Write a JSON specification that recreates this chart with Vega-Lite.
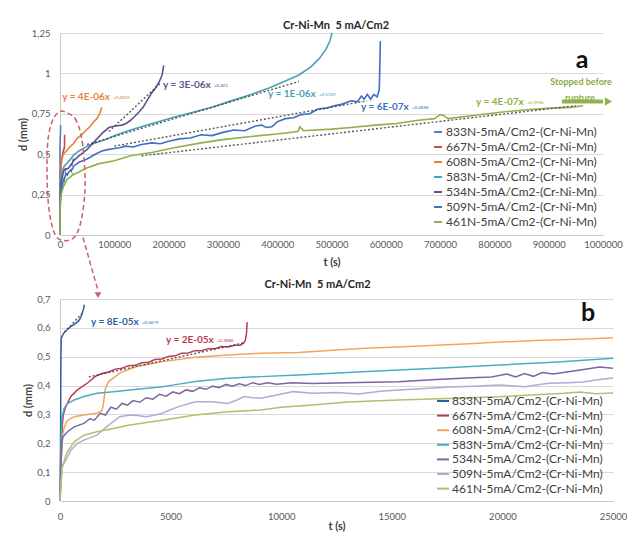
{
  "$schema": "https://vega.github.io/schema/vega-lite/v6.json",
  "background": "white",
  "padding": {"left": 17, "top": 19, "right": 5, "bottom": 5},
  "config": {
    "font": "Lato",
    "view": {"stroke": null},
    "axis": {
      "labelFont": "Lato", "labelFontSize": 9.5, "labelColor": "#595959",
      "titleFont": "Lato", "titleFontSize": 11, "titleFontWeight": "bold", "titleColor": "#404040",
      "ticks": false, "domainColor": "#c8c8c8", "gridColor": "#d9d9d9",
      "labelFlush": false, "labelOverlap": false
    },
    "title": {"font": "Lato", "fontSize": 11, "fontWeight": "bold", "color": "#262626", "anchor": "middle", "frame": "group"}
  },
  "datasets": {
    "curves": [
      {"k":"833","t":0,"d":0},{"k":"833","t":25,"d":0.2},{"k":"833","t":40,"d":0.5},{"k":"833","t":60,"d":0.565},{"k":"833","t":120,"d":0.575},{"k":"833","t":200,"d":0.585},{"k":"833","t":350,"d":0.595},{"k":"833","t":500,"d":0.605},{"k":"833","t":700,"d":0.615},{"k":"833","t":850,"d":0.625},{"k":"833","t":930,"d":0.635},{"k":"833","t":1000,"d":0.65},{"k":"833","t":1060,"d":0.665},{"k":"833","t":1100,"d":0.68},

      {"k":"667","t":0,"d":0},{"k":"667","t":60,"d":0.15},{"k":"667","t":100,"d":0.26},{"k":"667","t":150,"d":0.3},{"k":"667","t":266,"d":0.327},{"k":"667","t":488,"d":0.362},{"k":"667","t":784,"d":0.385},{"k":"667","t":1228,"d":0.408},{"k":"667","t":1600,"d":0.432},{"k":"667","t":1900,"d":0.442},{"k":"667","t":2200,"d":0.447},{"k":"667","t":2500,"d":0.457},{"k":"667","t":2800,"d":0.46},{"k":"667","t":3100,"d":0.469},{"k":"667","t":3400,"d":0.47},{"k":"667","t":3700,"d":0.479},{"k":"667","t":4000,"d":0.481},{"k":"667","t":4300,"d":0.49},{"k":"667","t":4600,"d":0.492},{"k":"667","t":4900,"d":0.501},{"k":"667","t":5200,"d":0.503},{"k":"667","t":5500,"d":0.512},{"k":"667","t":5800,"d":0.513},{"k":"667","t":6100,"d":0.521},{"k":"667","t":6400,"d":0.521},{"k":"667","t":6700,"d":0.528},{"k":"667","t":7000,"d":0.528},{"k":"667","t":7300,"d":0.535},{"k":"667","t":7600,"d":0.534},{"k":"667","t":7900,"d":0.54},{"k":"667","t":8150,"d":0.54},{"k":"667","t":8300,"d":0.547},{"k":"667","t":8380,"d":0.557},{"k":"667","t":8430,"d":0.58},{"k":"667","t":8460,"d":0.62},

      {"k":"608","t":0,"d":0},{"k":"608","t":60,"d":0.15},{"k":"608","t":120,"d":0.23},{"k":"608","t":200,"d":0.257},{"k":"608","t":340,"d":0.28},{"k":"608","t":640,"d":0.292},{"k":"608","t":1080,"d":0.298},{"k":"608","t":1670,"d":0.304},{"k":"608","t":1880,"d":0.312},{"k":"608","t":1950,"d":0.33},{"k":"608","t":2000,"d":0.36},{"k":"608","t":2050,"d":0.39},{"k":"608","t":2200,"d":0.414},{"k":"608","t":2700,"d":0.443},{"k":"608","t":3450,"d":0.466},{"k":"608","t":4630,"d":0.483},{"k":"608","t":6110,"d":0.498},{"k":"608","t":7590,"d":0.506},{"k":"608","t":9070,"d":0.512},{"k":"608","t":10770,"d":0.515},{"k":"608","t":12500,"d":0.523},{"k":"608","t":14000,"d":0.53},{"k":"608","t":15300,"d":0.534},{"k":"608","t":17000,"d":0.54},{"k":"608","t":18500,"d":0.545},{"k":"608","t":19900,"d":0.551},{"k":"608","t":21500,"d":0.556},{"k":"608","t":23000,"d":0.56},{"k":"608","t":24000,"d":0.562},{"k":"608","t":25000,"d":0.566},{"k":"608","t":32000,"d":0.6},{"k":"608","t":40000,"d":0.62},{"k":"608","t":47000,"d":0.645},{"k":"608","t":55000,"d":0.67},{"k":"608","t":62000,"d":0.7},{"k":"608","t":68000,"d":0.72},{"k":"608","t":73000,"d":0.75},{"k":"608","t":77000,"d":0.79},

      {"k":"583","t":0,"d":0},{"k":"583","t":50,"d":0.2},{"k":"583","t":80,"d":0.29},{"k":"583","t":120,"d":0.3},{"k":"583","t":190,"d":0.321},{"k":"583","t":340,"d":0.338},{"k":"583","t":640,"d":0.35},{"k":"583","t":1080,"d":0.362},{"k":"583","t":1670,"d":0.373},{"k":"583","t":2410,"d":0.379},{"k":"583","t":3150,"d":0.385},{"k":"583","t":4630,"d":0.396},{"k":"583","t":5370,"d":0.405},{"k":"583","t":6110,"d":0.414},{"k":"583","t":7590,"d":0.425},{"k":"583","t":9070,"d":0.431},{"k":"583","t":10770,"d":0.437},{"k":"583","t":13000,"d":0.445},{"k":"583","t":15300,"d":0.454},{"k":"583","t":17500,"d":0.462},{"k":"583","t":19860,"d":0.471},{"k":"583","t":22500,"d":0.482},{"k":"583","t":25000,"d":0.495},{"k":"583","t":35000,"d":0.52},{"k":"583","t":50000,"d":0.55},{"k":"583","t":65000,"d":0.57},{"k":"583","t":83000,"d":0.59},{"k":"583","t":105000,"d":0.62},{"k":"583","t":130000,"d":0.65},{"k":"583","t":170000,"d":0.69},{"k":"583","t":211000,"d":0.73},{"k":"583","t":245000,"d":0.76},{"k":"583","t":280000,"d":0.79},{"k":"583","t":315000,"d":0.83},{"k":"583","t":352000,"d":0.87},{"k":"583","t":385000,"d":0.91},{"k":"583","t":413000,"d":0.95},{"k":"583","t":440000,"d":0.99},{"k":"583","t":462000,"d":1.04},{"k":"583","t":477000,"d":1.09},{"k":"583","t":490000,"d":1.15},{"k":"583","t":497000,"d":1.2},{"k":"583","t":501000,"d":1.25},

      {"k":"534","t":0,"d":0},{"k":"534","t":50,"d":0.15},{"k":"534","t":80,"d":0.2},{"k":"534","t":130,"d":0.222},{"k":"534","t":340,"d":0.24},{"k":"534","t":640,"d":0.257},{"k":"534","t":1080,"d":0.269},{"k":"534","t":1350,"d":0.285},{"k":"534","t":1550,"d":0.28},{"k":"534","t":1820,"d":0.304},{"k":"534","t":2050,"d":0.298},{"k":"534","t":2300,"d":0.325},{"k":"534","t":2550,"d":0.318},{"k":"534","t":2800,"d":0.338},{"k":"534","t":3050,"d":0.332},{"k":"534","t":3300,"d":0.348},{"k":"534","t":3600,"d":0.342},{"k":"534","t":3900,"d":0.358},{"k":"534","t":4200,"d":0.353},{"k":"534","t":4500,"d":0.37},{"k":"534","t":4800,"d":0.363},{"k":"534","t":5100,"d":0.378},{"k":"534","t":5400,"d":0.372},{"k":"534","t":5700,"d":0.385},{"k":"534","t":6000,"d":0.38},{"k":"534","t":6300,"d":0.392},{"k":"534","t":6600,"d":0.387},{"k":"534","t":6900,"d":0.398},{"k":"534","t":7200,"d":0.393},{"k":"534","t":7500,"d":0.404},{"k":"534","t":7800,"d":0.398},{"k":"534","t":8100,"d":0.406},{"k":"534","t":8400,"d":0.4},{"k":"534","t":8700,"d":0.41},{"k":"534","t":9000,"d":0.404},{"k":"534","t":9400,"d":0.41},{"k":"534","t":9800,"d":0.405},{"k":"534","t":10500,"d":0.41},{"k":"534","t":11400,"d":0.407},{"k":"534","t":13000,"d":0.41},{"k":"534","t":15300,"d":0.413},{"k":"534","t":16800,"d":0.42},{"k":"534","t":18360,"d":0.426},{"k":"534","t":19500,"d":0.43},{"k":"534","t":20200,"d":0.44},{"k":"534","t":20600,"d":0.43},{"k":"534","t":21000,"d":0.442},{"k":"534","t":21400,"d":0.432},{"k":"534","t":21800,"d":0.445},{"k":"534","t":22300,"d":0.44},{"k":"534","t":22900,"d":0.447},{"k":"534","t":23600,"d":0.455},{"k":"534","t":24400,"d":0.464},{"k":"534","t":25000,"d":0.46},{"k":"534","t":35000,"d":0.49},{"k":"534","t":50000,"d":0.53},{"k":"534","t":64000,"d":0.58},{"k":"534","t":78000,"d":0.63},{"k":"534","t":90000,"d":0.665},{"k":"534","t":102000,"d":0.675},{"k":"534","t":114000,"d":0.68},{"k":"534","t":122000,"d":0.69},{"k":"534","t":130000,"d":0.71},{"k":"534","t":138000,"d":0.735},{"k":"534","t":145000,"d":0.76},{"k":"534","t":153000,"d":0.79},{"k":"534","t":160000,"d":0.83},{"k":"534","t":169000,"d":0.88},{"k":"534","t":176000,"d":0.91},{"k":"534","t":183000,"d":0.95},{"k":"534","t":188000,"d":0.99},{"k":"534","t":191000,"d":1.05},

      {"k":"509","t":0,"d":0},{"k":"509","t":60,"d":0.07},{"k":"509","t":100,"d":0.118},{"k":"509","t":340,"d":0.153},{"k":"509","t":490,"d":0.176},{"k":"509","t":790,"d":0.2},{"k":"509","t":1080,"d":0.211},{"k":"509","t":1670,"d":0.228},{"k":"509","t":2100,"d":0.257},{"k":"509","t":2700,"d":0.292},{"k":"509","t":3150,"d":0.298},{"k":"509","t":3500,"d":0.296},{"k":"509","t":3890,"d":0.292},{"k":"509","t":4300,"d":0.298},{"k":"509","t":4630,"d":0.304},{"k":"509","t":5000,"d":0.316},{"k":"509","t":5370,"d":0.327},{"k":"509","t":6110,"d":0.344},{"k":"509","t":6850,"d":0.344},{"k":"509","t":7590,"d":0.338},{"k":"509","t":8000,"d":0.35},{"k":"509","t":8330,"d":0.362},{"k":"509","t":8700,"d":0.358},{"k":"509","t":9070,"d":0.356},{"k":"509","t":9800,"d":0.367},{"k":"509","t":10550,"d":0.379},{"k":"509","t":11430,"d":0.373},{"k":"509","t":12500,"d":0.376},{"k":"509","t":13500,"d":0.371},{"k":"509","t":14500,"d":0.38},{"k":"509","t":15300,"d":0.385},{"k":"509","t":16500,"d":0.39},{"k":"509","t":17590,"d":0.395},{"k":"509","t":18700,"d":0.398},{"k":"509","t":19860,"d":0.402},{"k":"509","t":21000,"d":0.396},{"k":"509","t":22100,"d":0.408},{"k":"509","t":23000,"d":0.41},{"k":"509","t":23640,"d":0.412},{"k":"509","t":24300,"d":0.42},{"k":"509","t":25000,"d":0.426},{"k":"509","t":35000,"d":0.45},{"k":"509","t":50000,"d":0.47},{"k":"509","t":65000,"d":0.5},{"k":"509","t":77000,"d":0.52},{"k":"509","t":90000,"d":0.53},{"k":"509","t":100000,"d":0.535},{"k":"509","t":110000,"d":0.54},{"k":"509","t":120000,"d":0.55},{"k":"509","t":135000,"d":0.545},{"k":"509","t":150000,"d":0.56},{"k":"509","t":169000,"d":0.57},{"k":"509","t":185000,"d":0.565},{"k":"509","t":200000,"d":0.58},{"k":"509","t":220000,"d":0.595},{"k":"509","t":240000,"d":0.6},{"k":"509","t":260000,"d":0.62},{"k":"509","t":280000,"d":0.615},{"k":"509","t":300000,"d":0.635},{"k":"509","t":320000,"d":0.65},{"k":"509","t":340000,"d":0.645},{"k":"509","t":360000,"d":0.675},{"k":"509","t":371000,"d":0.68},{"k":"509","t":380000,"d":0.665},{"k":"509","t":390000,"d":0.67},{"k":"509","t":400000,"d":0.7},{"k":"509","t":415000,"d":0.72},{"k":"509","t":430000,"d":0.725},{"k":"509","t":444000,"d":0.745},{"k":"509","t":460000,"d":0.75},{"k":"509","t":475000,"d":0.78},{"k":"509","t":490000,"d":0.785},{"k":"509","t":505000,"d":0.8},{"k":"509","t":520000,"d":0.81},{"k":"509","t":536000,"d":0.83},{"k":"509","t":548000,"d":0.825},{"k":"509","t":555000,"d":0.86},{"k":"509","t":560000,"d":0.84},{"k":"509","t":566000,"d":0.87},{"k":"509","t":572000,"d":0.84},{"k":"509","t":578000,"d":0.87},{"k":"509","t":584000,"d":0.855},{"k":"509","t":588000,"d":0.9},{"k":"509","t":590000,"d":1.2},

      {"k":"461","t":0,"d":0},{"k":"461","t":40,"d":0.06},{"k":"461","t":100,"d":0.118},{"k":"461","t":300,"d":0.165},{"k":"461","t":640,"d":0.205},{"k":"461","t":1080,"d":0.228},{"k":"461","t":1670,"d":0.24},{"k":"461","t":2410,"d":0.251},{"k":"461","t":3150,"d":0.263},{"k":"461","t":4630,"d":0.28},{"k":"461","t":6110,"d":0.298},{"k":"461","t":7590,"d":0.309},{"k":"461","t":9070,"d":0.315},{"k":"461","t":10000,"d":0.325},{"k":"461","t":11430,"d":0.333},{"k":"461","t":13000,"d":0.343},{"k":"461","t":15300,"d":0.35},{"k":"461","t":17500,"d":0.355},{"k":"461","t":19860,"d":0.361},{"k":"461","t":21500,"d":0.368},{"k":"461","t":22800,"d":0.373},{"k":"461","t":23500,"d":0.378},{"k":"461","t":24200,"d":0.372},{"k":"461","t":25000,"d":0.374},{"k":"461","t":35000,"d":0.39},{"k":"461","t":46000,"d":0.41},{"k":"461","t":70000,"d":0.44},{"k":"461","t":100000,"d":0.46},{"k":"461","t":130000,"d":0.49},{"k":"461","t":169000,"d":0.51},{"k":"461","t":210000,"d":0.54},{"k":"461","t":260000,"d":0.57},{"k":"461","t":300000,"d":0.59},{"k":"461","t":352000,"d":0.61},{"k":"461","t":400000,"d":0.625},{"k":"461","t":438000,"d":0.64},{"k":"461","t":442000,"d":0.67},{"k":"461","t":448000,"d":0.645},{"k":"461","t":500000,"d":0.655},{"k":"461","t":536000,"d":0.665},{"k":"461","t":580000,"d":0.68},{"k":"461","t":620000,"d":0.69},{"k":"461","t":660000,"d":0.71},{"k":"461","t":690000,"d":0.72},{"k":"461","t":700000,"d":0.745},{"k":"461","t":706000,"d":0.74},{"k":"461","t":715000,"d":0.72},{"k":"461","t":750000,"d":0.735},{"k":"461","t":811000,"d":0.76},{"k":"461","t":860000,"d":0.775},{"k":"461","t":903000,"d":0.785},{"k":"461","t":940000,"d":0.79},{"k":"461","t":963000,"d":0.8}
    ],
    "trendA": [
      {"k":"534","t":90000,"d":0.64},{"k":"534","t":185000,"d":0.94},
      {"k":"583","t":50000,"d":0.56},{"k":"583","t":440000,"d":0.95},
      {"k":"509","t":100000,"d":0.55},{"k":"509","t":565000,"d":0.83},
      {"k":"461","t":150000,"d":0.49},{"k":"461","t":950000,"d":0.8}
    ],
    "trendB": [
      {"k":"833","t":200,"d":0.585},{"k":"833","t":1000,"d":0.65},
      {"k":"667","t":1300,"d":0.43},{"k":"667","t":8300,"d":0.548}
    ],
    "notesA": [
      {"k":"608","t":4000,"d":0.851,"eq":"y = 4E-06x","c":"+0,4005"},
      {"k":"534","t":189700,"d":0.931,"eq":"y = 3E-06x","c":"+0,401"},
      {"k":"583","t":383000,"d":0.87,"eq":"y = 1E-06x","c":"+0,5109"},
      {"k":"509","t":554300,"d":0.795,"eq":"y = 6E-07x","c":"+0,4888"},
      {"k":"461","t":766100,"d":0.82,"eq":"y = 4E-07x","c":"+0,3966"}
    ],
    "notesB": [
      {"k":"833","t":1401,"d":0.62,"eq":"y = 8E-05x","c":"+0,5679"},
      {"k":"667","t":4792,"d":0.558,"eq":"y = 2E-05x","c":"+0,3886"}
    ],
    "loop": [
      {"i":0,"t":11050,"d":0.758},{"i":1,"t":27624,"d":0.721},{"i":2,"t":38674,"d":0.622},{"i":3,"t":44198,"d":0.467},{"i":4,"t":46040,"d":0.282},{"i":5,"t":38674,"d":0.084},{"i":6,"t":25782,"d":-0.015},{"i":7,"t":7366,"d":-0.034},{"i":8,"t":-9208,"d":0.003},{"i":9,"t":-20258,"d":0.158},{"i":10,"t":-23941,"d":0.374},{"i":11,"t":-22099,"d":0.591},{"i":12,"t":-12891,"d":0.715},{"i":13,"t":0,"d":0.764}
    ]
  },
  "spacing": 64,
  "bounds": "flush",
  "resolve": {"scale": {"color": "independent"}, "legend": {"color": "independent"}},
  "vconcat": [
    {
      "width": 543,
      "height": 202,
      "title": {"text": "Cr-Ni-Mn\u00a0 5 mA/Cm2", "dx": 4.5, "offset": -2.5},
      "layer": [
        {
          "data": {"name": "curves"},
          "mark": {"type": "line", "strokeWidth": 1.6},
          "encoding": {
            "x": {"field": "t", "type": "quantitative", "scale": {"domain": [0, 1000000], "nice": false},
                  "axis": {"values": [0,100000,200000,300000,400000,500000,600000,700000,800000,900000,1000000], "format": "d", "title": "t (s)", "grid": false, "labelPadding": 4, "titlePadding": 8}},
            "y": {"field": "d", "type": "quantitative", "scale": {"domain": [0, 1.25], "nice": false},
                  "axis": {"values": [0,0.25,0.5,0.75,1,1.25], "labelOverlap": false, "labelExpr": "replace(format(datum.value, '.2~f'), '.', ',')", "title": "d (mm)", "labelPadding": 10, "titlePadding": 3}},
            "color": {"field": "k", "type": "nominal",
                      "scale": {"domain": ["833","667","608","583","534","509","461"], "range": ["#4f81bd","#c0504d","#e8823a","#4aa3b5","#64508c","#3f6fc0","#8fb04a"]},
                      "legend": {"orient": "none", "legendX": 372, "legendY": 93, "title": null, "padding": 0, "symbolType": "stroke", "symbolSize": 64, "symbolStrokeWidth": 2, "labelFont": "Lato", "labelFontSize": 12, "labelColor": "#404040", "labelOffset": 2, "rowPadding": 3.0, "labelLimit": 300, "labelExpr": "datum.label + 'N-5mA/Cm2-(Cr-Ni-Mn)'"}}
          }
        },
        {
          "data": {"name": "trendA"},
          "mark": {"type": "line", "strokeDash": [2, 2], "strokeWidth": 1.4, "color": "#3d3d3d", "opacity": 0.85},
          "encoding": {
            "x": {"field": "t", "type": "quantitative"},
            "y": {"field": "d", "type": "quantitative"},
            "detail": {"field": "k"}
          }
        },
        {
          "data": {"name": "notesA"},
          "mark": {"type": "text", "align": "left", "baseline": "middle", "fontSize": 10, "fontWeight": "bold"},
          "encoding": {
            "x": {"field": "t", "type": "quantitative"},
            "y": {"field": "d", "type": "quantitative"},
            "text": {"field": "eq"},
            "color": {"field": "k", "type": "nominal"}
          }
        },
        {
          "data": {"name": "notesA"},
          "mark": {"type": "text", "align": "left", "baseline": "middle", "fontSize": 4.5, "dx": 51, "dy": 1},
          "encoding": {
            "x": {"field": "t", "type": "quantitative"},
            "y": {"field": "d", "type": "quantitative"},
            "text": {"field": "c"},
            "color": {"field": "k", "type": "nominal"}
          }
        },
        {
          "data": {"name": "loop"},
          "mark": {"type": "line", "interpolate": "cardinal-closed", "strokeDash": [5, 3], "strokeWidth": 1.5, "color": "#c9626a", "clip": false},
          "encoding": {
            "x": {"field": "t", "type": "quantitative"},
            "y": {"field": "d", "type": "quantitative"},
            "order": {"field": "i", "type": "quantitative"}
          }
        },
        {
          "data": {"values": [{"t": 42357, "d": -0.015, "t2": 69981, "d2": -0.344}]},
          "mark": {"type": "rule", "strokeDash": [5, 3], "strokeWidth": 1.5, "color": "#c9626a", "clip": false},
          "encoding": {
            "x": {"field": "t", "type": "quantitative"},
            "y": {"field": "d", "type": "quantitative"},
            "x2": {"field": "t2"},
            "y2": {"field": "d2"}
          }
        },
        {
          "data": {"values": [{"t": 69981, "d": -0.372}]},
          "mark": {"type": "point", "shape": "triangle-down", "size": 45, "filled": true, "color": "#c9626a", "opacity": 1, "clip": false},
          "encoding": {
            "x": {"field": "t", "type": "quantitative"},
            "y": {"field": "d", "type": "quantitative"}
          }
        },
        {
          "data": {"values": [{"t": 924500, "t2": 1000000, "d": 0.826}]},
          "mark": {"type": "rule", "strokeWidth": 4, "color": "#8db34e", "clip": false},
          "encoding": {
            "x": {"field": "t", "type": "quantitative"},
            "x2": {"field": "t2"},
            "y": {"field": "d", "type": "quantitative"}
          }
        },
        {
          "data": {"values": [{"t": 1010000, "d": 0.826}]},
          "mark": {"type": "point", "shape": "triangle-right", "size": 70, "filled": true, "color": "#8db34e", "opacity": 1, "clip": false},
          "encoding": {
            "x": {"field": "t", "type": "quantitative"},
            "y": {"field": "d", "type": "quantitative"}
          }
        },
        {
          "data": {"values": [{"t": 959500, "d": 0.944, "txt": "Stopped before"}, {"t": 957600, "d": 0.845, "txt": "rupture"}]},
          "mark": {"type": "text", "fontSize": 9, "fontWeight": "bold", "color": "#8aaa4a", "baseline": "middle"},
          "encoding": {
            "x": {"field": "t", "type": "quantitative"},
            "y": {"field": "d", "type": "quantitative"},
            "text": {"field": "txt"}
          }
        },
        {
          "data": {"values": [{"t": 961300, "d": 1.086, "txt": "a"}]},
          "mark": {"type": "text", "fontSize": 25, "fontWeight": "bold", "color": "#111111", "baseline": "middle"},
          "encoding": {
            "x": {"field": "t", "type": "quantitative"},
            "y": {"field": "d", "type": "quantitative"},
            "text": {"field": "txt"}
          }
        }
      ]
    },
    {
      "width": 553,
      "height": 202,
      "title": {"text": "Cr-Ni-Mn\u00a0 5 mA/Cm2", "dx": -19, "offset": 4},
      "layer": [
        {
          "data": {"name": "curves"},
          "transform": [{"filter": "datum.t <= 25000"}],
          "mark": {"type": "line", "strokeWidth": 1.5},
          "encoding": {
            "x": {"field": "t", "type": "quantitative", "scale": {"domain": [0, 25000], "nice": false},
                  "axis": {"values": [0,5000,10000,15000,20000,25000], "format": "d", "title": "t (s)", "grid": false, "labelPadding": 10, "titlePadding": 0}},
            "y": {"field": "d", "type": "quantitative", "scale": {"domain": [0, 0.7], "nice": false},
                  "axis": {"values": [0,0.1,0.2,0.3,0.4,0.5,0.6,0.7], "tickCount": 8, "labelOverlap": false, "grid": true, "labelExpr": "replace(format(datum.value, '.1~f'), '.', ',')", "title": "d (mm)", "labelPadding": 10, "titlePadding": 3}},
            "color": {"field": "k", "type": "nominal",
                      "scale": {"domain": ["833","667","608","583","534","509","461"], "range": ["#2f5f9e","#b83c52","#f2a55a","#4bacc6","#8064a2","#b3aad6","#a8c46e"]},
                      "legend": {"orient": "none", "legendX": 376, "legendY": 95, "title": null, "padding": 0, "symbolType": "stroke", "symbolSize": 144, "symbolStrokeWidth": 2, "labelFont": "Lato", "labelFontSize": 12, "labelColor": "#404040", "labelOffset": 2, "rowPadding": 1.6, "labelLimit": 300, "labelExpr": "datum.label + 'N-5mA/Cm2-(Cr-Ni-Mn)'"}}
          }
        },
        {
          "data": {"name": "trendB"},
          "mark": {"type": "line", "strokeDash": [2, 2], "strokeWidth": 1.4, "color": "#3d3d3d", "opacity": 0.85},
          "encoding": {
            "x": {"field": "t", "type": "quantitative"},
            "y": {"field": "d", "type": "quantitative"},
            "detail": {"field": "k"}
          }
        },
        {
          "data": {"name": "notesB"},
          "mark": {"type": "text", "align": "left", "baseline": "middle", "fontSize": 10, "fontWeight": "bold"},
          "encoding": {
            "x": {"field": "t", "type": "quantitative"},
            "y": {"field": "d", "type": "quantitative"},
            "text": {"field": "eq"},
            "color": {"field": "k", "type": "nominal"}
          }
        },
        {
          "data": {"name": "notesB"},
          "mark": {"type": "text", "align": "left", "baseline": "middle", "fontSize": 4.5, "dx": 51, "dy": 1},
          "encoding": {
            "x": {"field": "t", "type": "quantitative"},
            "y": {"field": "d", "type": "quantitative"},
            "text": {"field": "c"},
            "color": {"field": "k", "type": "nominal"}
          }
        },
        {
          "data": {"values": [{"t": 23870, "d": 0.651, "txt": "b"}]},
          "mark": {"type": "text", "fontSize": 25, "fontWeight": "bold", "color": "#111111", "baseline": "middle"},
          "encoding": {
            "x": {"field": "t", "type": "quantitative"},
            "y": {"field": "d", "type": "quantitative"},
            "text": {"field": "txt"}
          }
        }
      ]
    }
  ]
}
